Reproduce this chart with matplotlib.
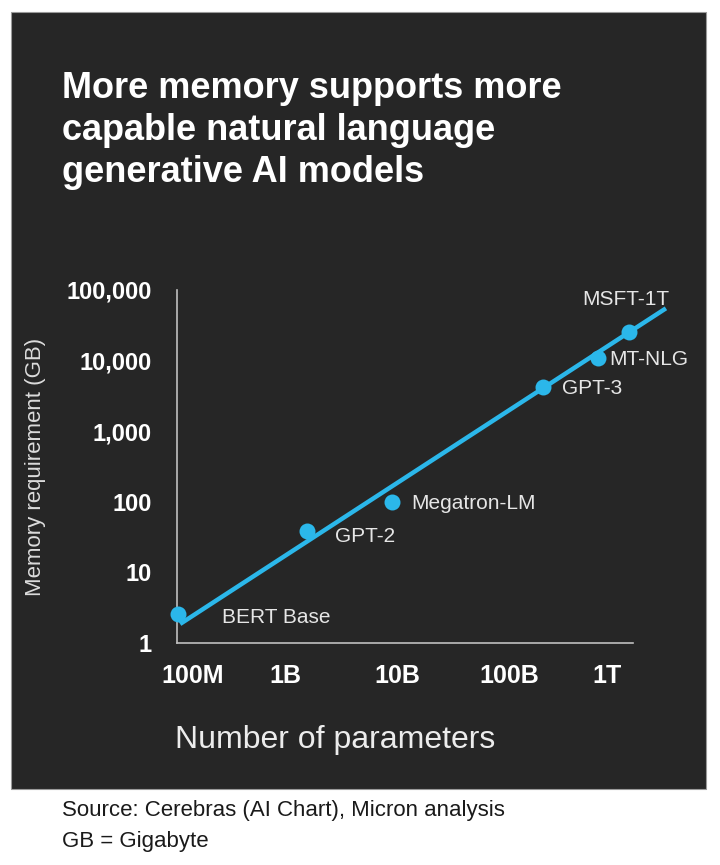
import matplotlib
matplotlib.use("Agg")
import matplotlib.pyplot as plt
from matplotlib.patches import Rectangle

plt.rcParams['font.family'] = ['Liberation Sans', 'DejaVu Sans']

# data
models = ['BERT Base', 'GPT-2', 'Megatron-LM', 'GPT-3', 'MT-NLG', 'MSFT-1T']
params = [110e6, 1.5e9, 8.3e9, 175e9, 530e9, 1e12]
memory_gb = [2.6, 39, 98, 4240, 11000, 25700]

# trend line end points
trend_x = [1.15e8, 2.1e12]
trend_y = [1.86, 55000]

y_ticks = [1, 10, 100, 1000, 10000, 100000]
y_ticklabels = ['1', '10', '100', '1,000', '10,000', '100,000']
x_ticks = [1e8, 1e9, 1e10, 1e11, 1e12]
x_ticklabels = ['100M', '1B', '10B', '100B', '1T']

# label offsets (points) relative to marker / tick
label_off = [(32, -3), (20, -4), (14, -1), (14, -1.5), (8, -1), (-34, 23)]
xtick_dx = [14, -1, -3, -4, -16]

blue = '#2bb7ea'
panel = '#262626'

fig = plt.figure(figsize=(7.2, 8.65), dpi=100)
fig.patch.set_facecolor('white')

# dark panel behind everything
fig.patches.append(Rectangle((11/720, 1-789/865), 695/720, 777/865,
                             transform=fig.transFigure, facecolor=panel,
                             edgecolor='#9a9a9a', linewidth=0.8, zorder=-1))

ax = fig.add_axes([177/720, 1-643/865, 456/720, 353/865])
ax.set_facecolor('none')
ax.set_xscale('log')
ax.set_yscale('log')
ax.set_xlim(1.08e8, 1.08e12)
ax.set_ylim(1, 1e5)

ax.plot(trend_x, trend_y, color=blue, lw=3.2, solid_capstyle='butt',
        clip_on=False, zorder=3)
ax.plot(params, memory_gb, 'o', color=blue, ms=11.5, mec='none',
        clip_on=False, zorder=4)

for m, px, my, (dx, dy) in zip(models, params, memory_gb, label_off):
    ax.annotate(m, xy=(px, my), xytext=(dx, dy), textcoords='offset points',
                ha='left', va='center', color='#e6e6e6', fontsize=15,
                annotation_clip=False)

for sp in ['top', 'right']:
    ax.spines[sp].set_visible(False)
for sp in ['left', 'bottom']:
    ax.spines[sp].set_color('#bfbfbf')
    ax.spines[sp].set_linewidth(1.2)

ax.set_yticks(y_ticks)
ax.set_yticklabels(y_ticklabels, fontsize=17, fontweight='bold', color='white')
ax.minorticks_off()
ax.tick_params(axis='y', length=0, pad=18)
ax.set_xticks([])

for v, lab, dx in zip(x_ticks, x_ticklabels, xtick_dx):
    ax.annotate(lab, xy=(v, 0), xycoords=('data', 'axes fraction'),
                xytext=(dx, -29), textcoords='offset points',
                ha='center', va='baseline', fontsize=18, fontweight='bold',
                color='white', annotation_clip=False)

# axis titles
fig.text(36/720, 1-467/865, 'Memory requirement (GB)', rotation=90,
         ha='center', va='center', fontsize=16, color='#dcdcdc')
fig.text(335/720, 1-748/865, 'Number of parameters', ha='center',
         va='baseline', fontsize=23, color='#ececec')

# title
title_lines = ['More memory supports more', 'capable natural language',
               'generative AI models']
for i, line in enumerate(title_lines):
    fig.text(62/720, 1-(98 + 42*i)/865, line, ha='left', va='baseline',
             fontsize=26, fontweight='bold', color='white')

# footer
fig.text(62/720, 1-816/865, 'Source: Cerebras (AI Chart), Micron analysis',
         ha='left', va='baseline', fontsize=16, color='#1a1a1a')
fig.text(62/720, 1-847/865, 'GB = Gigabyte', ha='left', va='baseline',
         fontsize=16, color='#1a1a1a')

fig.savefig('out.png', dpi=100, facecolor=fig.get_facecolor())
